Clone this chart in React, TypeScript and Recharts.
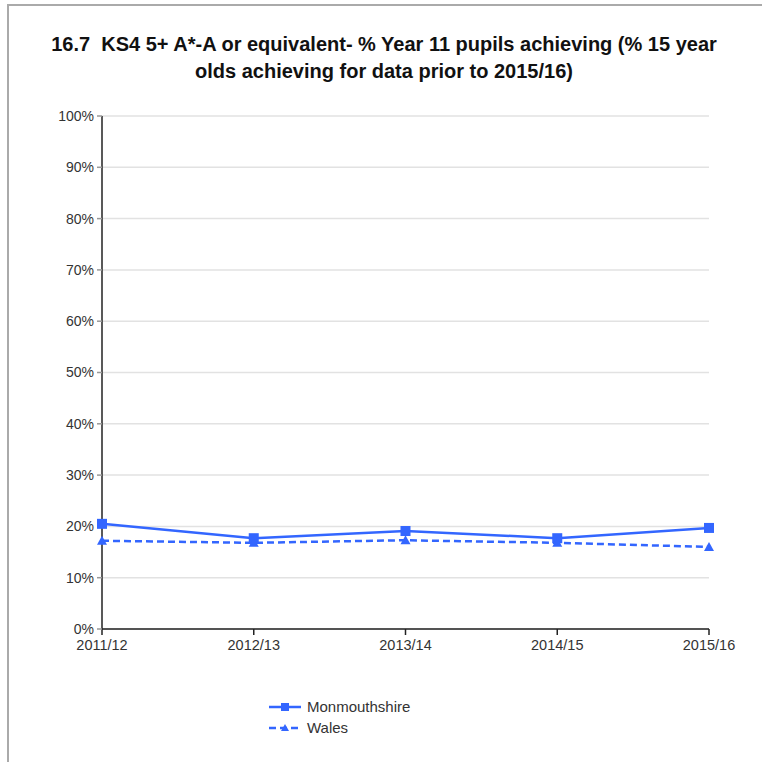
import React from 'react';
import { LineChart, Line, XAxis, YAxis, CartesianGrid } from 'recharts';

const years = ['2011/12', '2012/13', '2013/14', '2014/15', '2015/16'];
const monmouthshire = [20.5, 17.7, 19.1, 17.7, 19.7];
const wales = [17.2, 16.8, 17.3, 16.8, 16.0];
const yTicks = [0, 10, 20, 30, 40, 50, 60, 70, 80, 90, 100];

const BLUE = '#3366ff';
const FONT = 'Liberation Sans, Arial, sans-serif';

const data = years.map((y, i) => ({ name: y, mon: monmouthshire[i], wales: wales[i] }));

const SquareDot = (props: any) => {
  const { cx, cy, index } = props;
  if (cx == null || cy == null) return null;
  return <rect key={'s' + index} x={cx - 5} y={cy - 5} width={10} height={10} fill={BLUE} />;
};

const TriDot = (props: any) => {
  const { cx, cy, index } = props;
  if (cx == null || cy == null) return null;
  return <path key={'t' + index} d={`M${cx},${cy - 5} L${cx + 5},${cy + 4} L${cx - 5},${cy + 4} Z`} fill={BLUE} />;
};

const LegendBox = () => (
  <div style={{ position: 'absolute', left: 269, top: 696, fontFamily: FONT, fontSize: 15, color: '#333' }}>
    <div style={{ display: 'flex', alignItems: 'center', height: 21 }}>
      <svg width={32} height={10} style={{ marginRight: 6 }}>
        <line x1={0} y1={5} x2={32} y2={5} stroke={BLUE} strokeWidth={2.5} />
        <rect x={12} y={1} width={8} height={8} fill={BLUE} />
      </svg>
      <span>Monmouthshire</span>
    </div>
    <div style={{ display: 'flex', alignItems: 'center', height: 21 }}>
      <svg width={32} height={10} style={{ marginRight: 6 }}>
        <line x1={0} y1={5} x2={32} y2={5} stroke={BLUE} strokeWidth={2.5} strokeDasharray="7 4" />
        <path d="M16,1 L20,8 L12,8 Z" fill={BLUE} />
      </svg>
      <span>Wales</span>
    </div>
  </div>
);

export default function App() {
  return (
    <div style={{ position: 'absolute', left: 0, top: 0, width: 762, height: 762, background: '#fff', overflow: 'hidden' }}>
      <div style={{ position: 'absolute', left: 7, top: 4, width: 770, height: 770, borderTop: '2px solid #aaa', borderLeft: '2px solid #aaa' }} />
      <div style={{
        position: 'absolute', left: 0, top: 31, width: 768, textAlign: 'center',
        fontFamily: FONT, fontWeight: 'bold', fontSize: 20, lineHeight: '27px', color: '#111'
      }}>
        16.7&nbsp; KS4 5+ A*-A or equivalent- % Year 11 pupils achieving (% 15 year<br />
        olds achieving for data prior to 2015/16)
      </div>
      <div style={{ position: 'absolute', left: 0, top: 0 }}>
        <LineChart width={762} height={762} data={data} margin={{ top: 116, right: 53, left: 0, bottom: 103 }}>
          <CartesianGrid vertical={false} stroke="#e2e2e2" strokeWidth={1.5} />
          <XAxis
            dataKey="name"
            height={30}
            stroke="#222"
            strokeWidth={1.5}
            tickSize={6}
            tickMargin={5}
            tick={{ fontSize: 14.5, fill: '#333', fontFamily: FONT }}
            tickLine={{ stroke: '#222' }}
            interval={0}
          />
          <YAxis
            width={102}
            domain={[0, 100]}
            ticks={yTicks}
            tickFormatter={(v: number) => `${v}%`}
            stroke="#222"
            strokeWidth={1.5}
            tickSize={5}
            tickMargin={3}
            tickLine={{ stroke: '#999' }}
            tick={{ fontSize: 14, fill: '#333', fontFamily: FONT }}
          />
          <Line dataKey="mon" stroke={BLUE} strokeWidth={2.5} dot={SquareDot} activeDot={false} isAnimationActive={false} />
          <Line dataKey="wales" stroke={BLUE} strokeWidth={2.5} strokeDasharray="7 4" dot={TriDot} activeDot={false} isAnimationActive={false} />
        </LineChart>
      </div>
      <LegendBox />
    </div>
  );
}
